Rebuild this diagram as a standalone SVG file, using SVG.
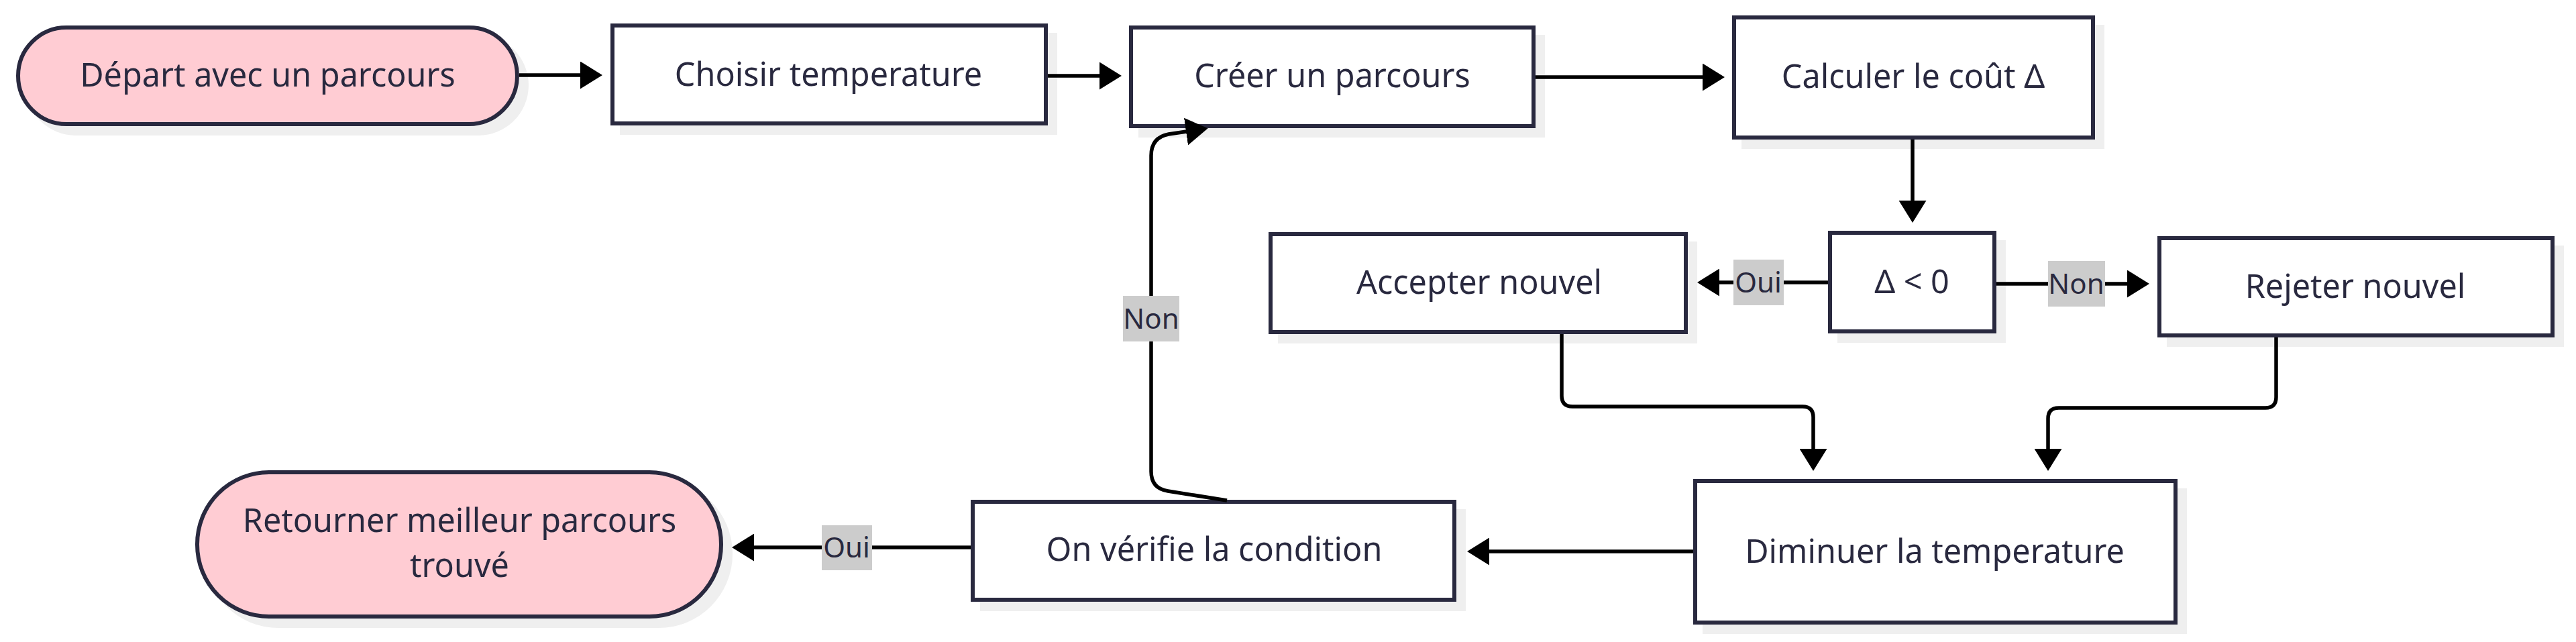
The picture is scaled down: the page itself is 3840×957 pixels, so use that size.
<svg xmlns="http://www.w3.org/2000/svg" width="3840" height="957" viewBox="0 0 3840 957">
<defs>
<style>
.shadow{fill:#efefef;stroke:none}
.box{fill:#ffffff;stroke:#29293f;stroke-width:6}
.term{fill:#ffccd3;stroke:#29293f;stroke-width:6}
.t{font-family:"Noto Sans","DejaVu Sans",sans-serif;font-size:48.5px;fill:#29293f;text-anchor:middle}
.lt{font-family:"Noto Sans","DejaVu Sans",sans-serif;font-size:42px;fill:#29293f;text-anchor:middle}
.lbg{fill:#cccccc;stroke:none}
.edge{fill:none;stroke:#000000;stroke-width:5.5;marker-end:url(#arr)}
</style>
<marker id="arr" markerUnits="userSpaceOnUse" viewBox="0 0 33 41" markerWidth="33" markerHeight="41" refX="1" refY="20.5" orient="auto">
<path d="M0,0 L33,20.5 L0,41 z" fill="#000000"/>
</marker>
</defs>
<rect width="3840" height="957" fill="#ffffff"/>

<g id="node-depart">
<rect class="shadow" x="38" y="52" width="750" height="150" rx="75"/>
<rect class="term" x="27" y="41" width="744" height="144" rx="72"/>
<text class="t" x="399" y="129">Départ avec un parcours</text>
</g>
<g id="node-choisir">
<rect class="shadow" x="924" y="49" width="652" height="152"/>
<rect class="box" x="913" y="38" width="646" height="146"/>
<text class="t" x="1235" y="128">Choisir temperature</text>
</g>
<g id="node-creer">
<rect class="shadow" x="1697" y="52" width="606" height="153"/>
<rect class="box" x="1686" y="41" width="600" height="147"/>
<text class="t" x="1986" y="130">Créer un parcours</text>
</g>
<g id="node-calculer">
<rect class="shadow" x="2596" y="37" width="541" height="185"/>
<rect class="box" x="2585" y="26" width="535" height="179"/>
<text class="t" x="2852" y="131">Calculer le coût Δ</text>
</g>
<g id="node-accepter">
<rect class="shadow" x="1905" y="360" width="625" height="152"/>
<rect class="box" x="1894" y="349" width="619" height="146"/>
<text class="t" x="2205" y="438">Accepter nouvel</text>
</g>
<g id="node-delta">
<rect class="shadow" x="2739" y="358" width="251" height="153"/>
<rect class="box" x="2728" y="347" width="245" height="147"/>
<text class="t" x="2850" y="437">Δ &lt; 0</text>
</g>
<g id="node-rejeter">
<rect class="shadow" x="3230" y="366" width="592" height="151"/>
<rect class="box" x="3219" y="355" width="586" height="145"/>
<text class="t" x="3511" y="444">Rejeter nouvel</text>
</g>
<g id="node-diminuer">
<rect class="shadow" x="2538" y="728" width="722" height="217"/>
<rect class="box" x="2527" y="717" width="716" height="211"/>
<text class="t" x="2884" y="839">Diminuer la temperature</text>
</g>
<g id="node-verifie">
<rect class="shadow" x="1461" y="759" width="724" height="152"/>
<rect class="box" x="1450" y="748" width="718" height="146"/>
<text class="t" x="1810" y="836">On vérifie la condition</text>
</g>
<g id="node-retourner">
<rect class="shadow" x="305" y="715" width="787" height="221" rx="110"/>
<rect class="term" x="294" y="704" width="781" height="215" rx="107"/>
<text class="t" x="685" y="793">Retourner meilleur parcours</text>
<text class="t" x="685" y="860">trouvé</text>
</g>

<g id="connectors">
<path class="edge" d="M774,112 L866,112"/>
<path class="edge" d="M1562,113 L1640,113"/>
<path class="edge" d="M2289,115 L2539,115"/>
<path class="edge" d="M2851,208 L2851,300"/>
<path class="edge" d="M2725,421 L2562,421"/>
<path class="edge" d="M2976,423 L3172,423"/>
<path class="edge" d="M2328,498 L2328,590 Q2328,606 2344,606 L2687,606 Q2703,606 2703,622 L2703,670"/>
<path class="edge" d="M3393,503 L3393,592 Q3393,608 3377,608 L3069,608 Q3053,608 3053,624 L3053,670"/>
<path class="edge" d="M2524,822 L2219,822"/>
<path class="edge" d="M1829,746 L1741,732 Q1716,728 1716,703 L1716,232 Q1716,205 1742,200 L1769,196"/>
<path class="edge" d="M1447,816 L1123,816"/>
<rect class="lbg" x="2584" y="387" width="75" height="68"/>
<text class="lt" x="2621" y="436">Oui</text>
<rect class="lbg" x="3053" y="389" width="85" height="68"/>
<text class="lt" x="3095" y="438">Non</text>
<rect class="lbg" x="1674" y="441" width="84" height="68"/>
<text class="lt" x="1716" y="490">Non</text>
<rect class="lbg" x="1225" y="783" width="75" height="67"/>
<text class="lt" x="1262" y="831">Oui</text>
</g>
</svg>
